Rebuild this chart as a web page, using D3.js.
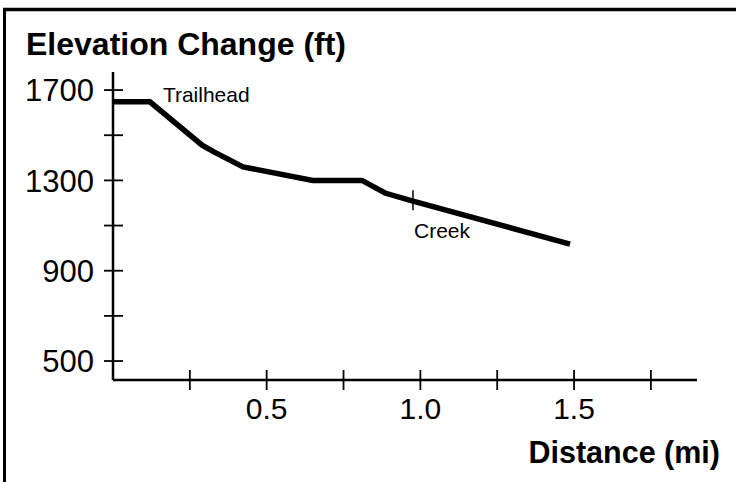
<!DOCTYPE html>
<html>
<head>
<meta charset="utf-8">
<script src="https://cdn.jsdelivr.net/npm/d3@7"></script>
<style>
  body { margin: 0; background: #fff; }
  svg text { font-family: "Liberation Sans", Arial, sans-serif; fill: #000; }
</style>
</head>
<body>
<svg id="chart" width="736" height="482"></svg>
<script>
// trail profile
const distance = [0, 0.12, 0.29, 0.33, 0.423, 0.65, 0.81, 0.885, 0.976, 1.487];
const elevation = [1648, 1648, 1456, 1425, 1360, 1300, 1300, 1244, 1208, 1018];

const yTickValues = [500, 700, 900, 1100, 1300, 1500, 1700];
const yTickLabels = ["500", "", "900", "", "1300", "", "1700"];
const xTickValues = [0.25, 0.5, 0.75, 1.0, 1.25, 1.5, 1.75];
const xTickLabels = ["", "0.5", "", "1.0", "", "1.5", ""];

const landmarks = ["Trailhead", "Creek"];
const landmarkIndex = [1, 8];

const svg = d3.select("#chart");

// frame (top and left only)
svg.append("line").attr("x1", 4.5).attr("y1", 8).attr("x2", 4.5).attr("y2", 482)
    .attr("stroke", "#000").attr("stroke-width", 3);
svg.append("line").attr("x1", 3).attr("y1", 9.5).attr("x2", 736).attr("y2", 9.5)
    .attr("stroke", "#000").attr("stroke-width", 3.5);

const x = d3.scaleLinear().domain([0, 1.9]).range([113, 697]);
const y = d3.scaleLinear().domain([416, 1780]).range([380, 72]);

// axes
svg.append("line").attr("x1", x(0)).attr("x2", x(0)).attr("y1", y(1780)).attr("y2", y(416))
    .attr("stroke", "#000").attr("stroke-width", 2.5);
svg.append("line").attr("x1", x(0)).attr("x2", x(1.9)).attr("y1", y(416)).attr("y2", y(416))
    .attr("stroke", "#000").attr("stroke-width", 2.5);

svg.selectAll(".ytick").data(yTickValues).join("line")
    .attr("x1", x(0) - 9).attr("x2", x(0) + 10)
    .attr("y1", d => y(d)).attr("y2", d => y(d))
    .attr("stroke", "#000").attr("stroke-width", 1.8);

svg.selectAll(".ylab").data(yTickValues).join("text")
    .attr("x", 94).attr("y", d => y(d)).attr("dy", "0.36em")
    .attr("text-anchor", "end").style("font-size", "31px")
    .text((d, i) => yTickLabels[i]);

svg.selectAll(".xtick").data(xTickValues).join("line")
    .attr("x1", d => x(d)).attr("x2", d => x(d))
    .attr("y1", y(416) - 10).attr("y2", y(416) + 10)
    .attr("stroke", "#000").attr("stroke-width", 1.8);

svg.selectAll(".xlab").data(xTickValues).join("text")
    .attr("x", d => x(d)).attr("y", 419)
    .attr("text-anchor", "middle").style("font-size", "30px")
    .text((d, i) => xTickLabels[i]);

// profile line
const line = d3.line()
    .x((d, i) => x(distance[i]))
    .y((d, i) => y(elevation[i]));

svg.append("path")
    .datum(distance)
    .attr("d", line)
    .attr("fill", "none")
    .attr("stroke", "#000")
    .attr("stroke-width", 5.5)
    .attr("stroke-linejoin", "miter");

// landmarks
const tp = landmarkIndex[0];
svg.append("text")
    .attr("x", x(distance[tp]) + 13).attr("y", y(elevation[tp]))
    .style("font-size", "21px").text(landmarks[0]);

const cp = landmarkIndex[1];
svg.append("line")
    .attr("x1", x(distance[cp])).attr("x2", x(distance[cp]))
    .attr("y1", y(elevation[cp]) - 11).attr("y2", y(elevation[cp]) + 9)
    .attr("stroke", "#000").attr("stroke-width", 1.5);
svg.append("text")
    .attr("x", x(distance[cp]) + 1).attr("y", y(elevation[cp]) + 37)
    .style("font-size", "21px").text(landmarks[1]);

// titles
svg.append("text").attr("x", 26).attr("y", 55)
    .style("font-size", "32px").style("font-weight", "bold")
    .text("Elevation Change (ft)");
svg.append("text").attr("x", 720).attr("y", 463).attr("text-anchor", "end")
    .style("font-size", "30.5px").style("font-weight", "bold")
    .text("Distance (mi)");
</script>
</body>
</html>
